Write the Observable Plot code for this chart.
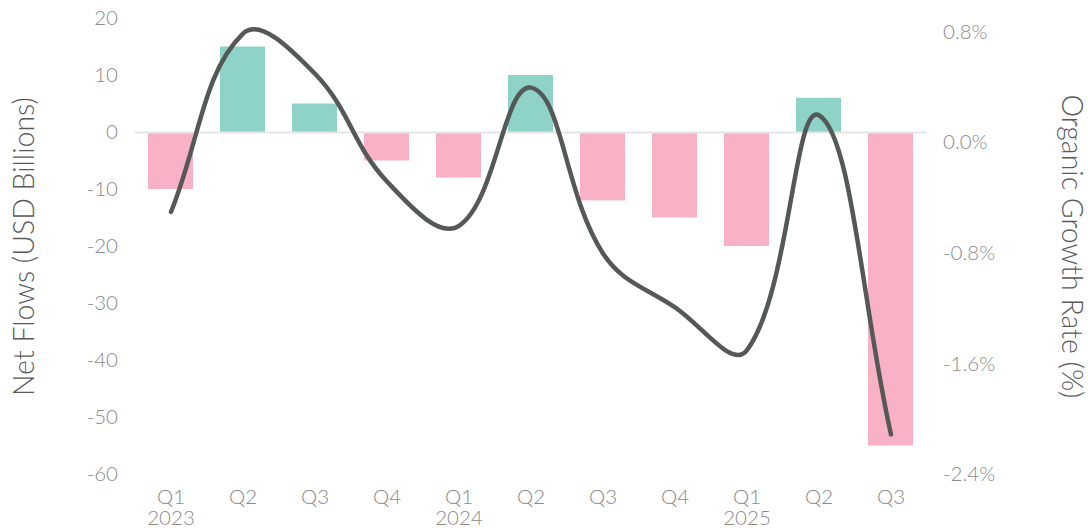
<!DOCTYPE html>
<html>
<head>
<meta charset="utf-8">
<script src="https://cdn.jsdelivr.net/npm/d3@7"></script>
<script src="https://cdn.jsdelivr.net/npm/@observablehq/plot@0.6"></script>
<style>
  html, body { margin: 0; padding: 0; background: #ffffff; }
  #chart svg { display: block; }
</style>
</head>
<body>
<div id="chart"></div>
<script>
// Quarterly net flows (bars, left axis) and organic growth rate (line, right axis)
const quarters = ["Q1", "Q2", "Q3", "Q4", "Q1", "Q2", "Q3", "Q4", "Q1", "Q2", "Q3"];
const years = ["2023", "2023", "2023", "2023", "2024", "2024", "2024", "2024", "2025", "2025", "2025"];
const netFlows = [-10, 15, 5, -5, -8, 10, -12, -15, -20, 6, -55];
const growthRate = [-0.5, 0.79, 0.5, -0.28, -0.6, 0.4, -0.8, -1.19, -1.5, 0.2, -2.11];

const flowTicks = [-60, -50, -40, -30, -20, -10, 0, 10, 20];
const rateTicks = [-2.4, -1.6, -0.8, 0, 0.8];

const flowDomain = [-60, 20];
const rateDomain = [-2.4, 0.9];

// Map a growth rate onto the net-flow scale so both share one y scale
const rateToFlow = d3.scaleLinear().domain(rateDomain).range(flowDomain);

// Tension-based cubic Bézier smoothing: control points are spread along the
// neighbour-to-neighbour direction, weighted by segment lengths.
function tensionCurve(tension = 0.4) {
  return function(context) {
    let pts = [];
    return {
      areaStart() {},
      areaEnd() {},
      lineStart() { pts = []; },
      point(x, y) { pts.push([+x, +y]); },
      lineEnd() {
        const n = pts.length;
        if (!n) return;
        const ctrl = pts.map((cur, i) => {
          const prev = i > 0 ? pts[i - 1] : cur;
          const next = i < n - 1 ? pts[i + 1] : cur;
          const d01 = Math.hypot(cur[0] - prev[0], cur[1] - prev[1]);
          const d12 = Math.hypot(next[0] - cur[0], next[1] - cur[1]);
          const sum = d01 + d12;
          const s01 = sum ? d01 / sum : 0;
          const s12 = sum ? d12 / sum : 0;
          const fa = tension * s01;
          const fb = tension * s12;
          const dx = next[0] - prev[0];
          const dy = next[1] - prev[1];
          return {
            before: [cur[0] - fa * dx, cur[1] - fa * dy],
            after: [cur[0] + fb * dx, cur[1] + fb * dy]
          };
        });
        context.moveTo(pts[0][0], pts[0][1]);
        for (let i = 1; i < n; ++i) {
          const a = ctrl[i - 1].after;
          const b = ctrl[i].before;
          context.bezierCurveTo(a[0], a[1], b[0], b[1], pts[i][0], pts[i][1]);
        }
      }
    };
  };
}

const rows = quarters.map((q, i) => ({
  key: `${years[i]} ${q}`,
  quarter: q,
  year: years[i],
  flow: netFlows[i],
  rate: growthRate[i]
}));

const tickColor = "#8a8a8a";
const titleColor = "#5a5a5a";

const chart = Plot.plot({
  width: 1088,
  height: 531,
  marginTop: 18,
  marginBottom: 57,
  marginLeft: 134.5,
  marginRight: 161.5,
  style: { fontFamily: "Lato, 'Open Sans', sans-serif", fontWeight: 300, background: "#ffffff" },
  x: { type: "band", domain: rows.map(d => d.key), paddingInner: 0.375, paddingOuter: 0.1875, axis: null },
  y: { domain: flowDomain, axis: null },
  marks: [
    Plot.barY(rows, {
      x: "key",
      y: "flow",
      fill: d => d.flow >= 0 ? "#8fd3c8" : "#f9b2c5"
    }),
    Plot.ruleY([0], { stroke: "#e6e6e6", strokeWidth: 2 }),
    Plot.line(rows, {
      x: "key",
      y: d => rateToFlow(d.rate),
      curve: tensionCurve(0.4),
      stroke: "#545857",
      strokeWidth: 4.5,
      strokeLinecap: "round",
      strokeLinejoin: "round"
    }),
    // left axis: net flows
    Plot.axisY(flowTicks, {
      anchor: "left",
      tickSize: 0,
      tickPadding: 17,
      tickFormat: d => String(d),
      fontSize: 20.5,
      color: tickColor,
      label: null
    }),
    // right axis: organic growth rate
    Plot.axisY(rateTicks.map(r => rateToFlow(r)), {
      anchor: "right",
      tickSize: 0,
      tickPadding: 16,
      tickFormat: (d, i) => rateTicks[i].toFixed(1) + "%",
      fontSize: 20.5,
      color: tickColor,
      label: null
    }),
    // quarter labels
    Plot.axisX({
      anchor: "bottom",
      tickSize: 0,
      tickPadding: 15,
      tickFormat: k => k.split(" ")[1],
      fontSize: 20.5,
      color: tickColor,
      label: null
    }),
    // year labels under each first quarter
    Plot.text(rows.filter(d => d.quarter === "Q1"), {
      x: "key",
      text: "year",
      frameAnchor: "bottom",
      lineAnchor: "top",
      dy: 36,
      fontSize: 20.5,
      fill: tickColor
    }),
    // axis titles
    Plot.text(["Net Flows (USD Billions)"], {
      frameAnchor: "left",
      rotate: -90,
      dx: -110.5,
      textAnchor: "middle",
      lineAnchor: "middle",
      fontSize: 28.5,
      fill: titleColor
    }),
    Plot.text(["Organic Growth Rate (%)"], {
      frameAnchor: "right",
      rotate: 90,
      dx: 144,
      textAnchor: "middle",
      lineAnchor: "middle",
      fontSize: 28.5,
      fill: titleColor
    })
  ]
});

document.getElementById("chart").append(chart);
</script>
</body>
</html>
